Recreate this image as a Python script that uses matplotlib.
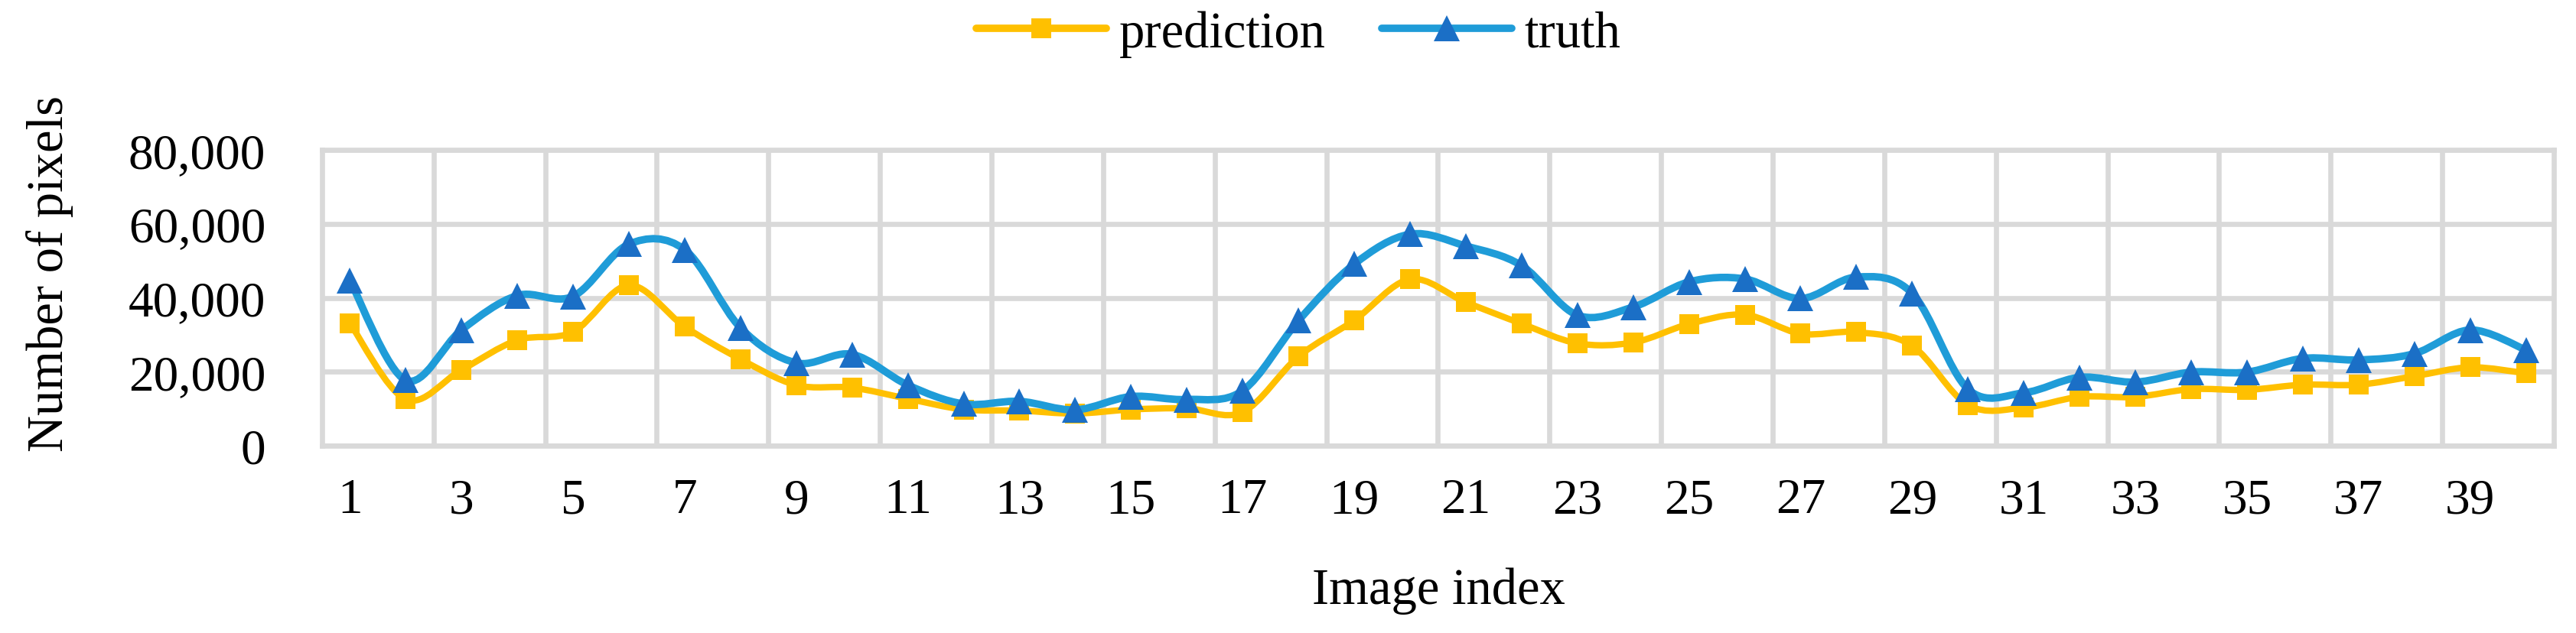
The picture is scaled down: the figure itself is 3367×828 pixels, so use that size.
import numpy as np
import matplotlib
matplotlib.use("Agg")
import matplotlib.pyplot as plt
from matplotlib.path import Path
from matplotlib.patches import PathPatch
from matplotlib.lines import Line2D
from matplotlib.ticker import FuncFormatter

# =====================
# DATA
# =====================
image_index = list(range(1, 41))
prediction = [33100, 12550, 20500, 28550, 30800, 43400, 32200, 23400, 16400, 15700,
              12700, 9800, 9500, 8700, 9800, 10100, 9100, 24100, 33900, 45000,
              38800, 33000, 27700, 27900, 32900, 35400, 30300, 30700, 27000, 11000,
              10300, 13200, 13200, 15300, 15100, 16500, 16500, 18800, 21200, 19600]
truth = [44700, 17700, 31300, 40600, 40400, 54500, 53000, 31900, 22400, 24700,
         16400, 11300, 12000, 9700, 13300, 12500, 14900, 33800, 49100, 57200,
         54000, 48700, 35300, 37500, 44300, 45100, 39800, 45600, 41200, 15300,
         14300, 18500, 17200, 19900, 19900, 23600, 23200, 24900, 31300, 25900]
y_ticks = [0, 20000, 40000, 60000, 80000]
x_ticks = list(range(1, 41, 2))

# =====================
# STYLE
# =====================
YELLOW = "#FFC000"
BLUE_LINE = "#1F9CD8"
BLUE_MARK = "#1B6FC6"
GRID = "#D9D9D9"
LW_PRED = 6
LW_TRUTH = 7
LW_GRID = 4.8
plt.rcParams['font.family'] = ['Liberation Serif', 'DejaVu Serif']


def smooth_path(xs, ys):
    # excel-like smoothed line: cubic bezier through every point
    pts = np.column_stack([xs, ys]).astype(float)
    n = len(pts)
    verts = [pts[0]]
    codes = [Path.MOVETO]
    for i in range(n - 1):
        p0 = pts[i - 1] if i > 0 else pts[i]
        p1 = pts[i]
        p2 = pts[i + 1]
        p3 = pts[i + 2] if i + 2 < n else pts[i + 1]
        verts += [p1 + (p2 - p0) / 6, p2 - (p3 - p1) / 6, p2]
        codes += [Path.CURVE4] * 3
    return Path(verts, codes)


fig = plt.figure(figsize=(33.67, 8.29), dpi=100)
ax = fig.add_axes([0.125, 0.2955, 0.8664, 0.4669])

ax.set_xlim(0.5, 40.5)
ax.set_ylim(0, 80000)

# prediction
ax.add_patch(PathPatch(smooth_path(image_index, prediction), fill=False,
                       edgecolor=YELLOW, lw=LW_PRED, capstyle='round', joinstyle='round', zorder=3))
ax.plot(image_index, prediction, ls='none', marker='s', ms=18.5, mfc=YELLOW, mec=YELLOW,
        mew=0, zorder=4)

# truth
ax.add_patch(PathPatch(smooth_path(image_index, truth), fill=False,
                       edgecolor=BLUE_LINE, lw=LW_TRUTH, capstyle='round', joinstyle='round', zorder=5))
ax.plot(image_index, truth, ls='none', marker='^', ms=24, mfc=BLUE_MARK, mec=BLUE_MARK,
        mew=0, zorder=6)

# grid
ax.set_yticks(y_ticks)
ax.yaxis.set_major_formatter(FuncFormatter(lambda v, p: f"{int(v):,}"))
ax.set_xticks(x_ticks)
ax.set_xticks(np.arange(2.5, 40, 2), minor=True)
ax.grid(axis='y', which='major', color=GRID, lw=LW_GRID, zorder=0)
ax.grid(axis='x', which='minor', color=GRID, lw=LW_GRID, zorder=0)
ax.set_axisbelow(True)
for s in ax.spines.values():
    s.set_color(GRID)
    s.set_linewidth(LW_GRID)
ax.tick_params(axis='both', which='both', length=0)
ax.tick_params(axis='x', labelsize=47, pad=30)
ax.tick_params(axis='y', labelsize=47, pad=53)

fig.text(0.0193, 0.568, "Number of pixels", rotation=90, ha='center', va='center', fontsize=48)
fig.text(0.5585, 1 - 790 / 829, "Image index", ha='center', va='baseline', fontsize=48)

handles = [
    Line2D([], [], color=YELLOW, lw=LW_TRUTH, marker='s', ms=18.5, mfc=YELLOW, mew=0,
           solid_capstyle='round'),
    Line2D([], [], color=BLUE_LINE, lw=LW_TRUTH, marker='^', ms=24, mfc=BLUE_MARK, mew=0,
           solid_capstyle='round'),
]
fig.legend(handles, ["prediction", "truth"], loc='center', ncol=2, frameon=False,
           bbox_to_anchor=(1697 / 3367, 1 - 45 / 829), fontsize=48,
           handlelength=2.55, handletextpad=0.25, columnspacing=1.1, borderaxespad=0)

fig.savefig("out.png", dpi=100)
